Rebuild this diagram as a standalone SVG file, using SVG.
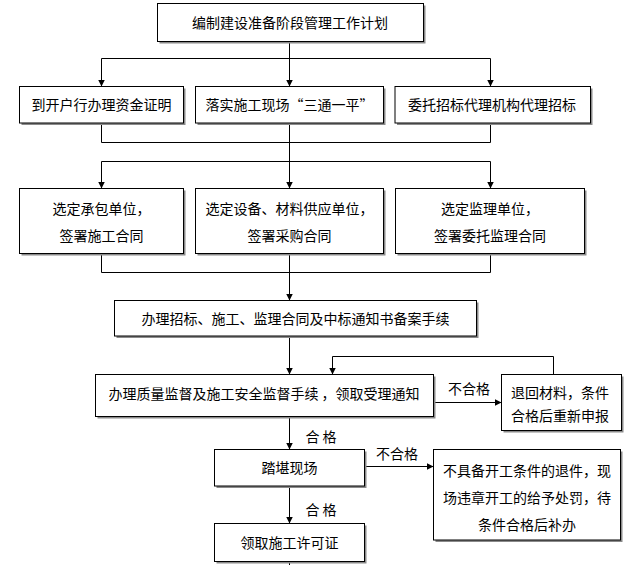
<svg xmlns="http://www.w3.org/2000/svg" width="630" height="565" viewBox="0 0 630 565">
<defs>
<marker id="ah" viewBox="0 0 10 10" refX="10" refY="5" markerWidth="7" markerHeight="7" markerUnits="userSpaceOnUse" orient="auto">
<path d="M0,0 L10,5 L0,10 z" fill="#000"/>
</marker>
</defs>
<style>
.box{fill:#fff;stroke:#000;stroke-width:1}
.sh{fill:#8a8a8a}
text{font-family:"Noto Sans CJK SC","Noto Sans CJK TC",sans-serif;font-size:14px;fill:#000;text-anchor:middle}
.c{fill:none;stroke:#000;stroke-width:1}
.a{marker-end:url(#ah)}
</style>
<rect width="630" height="565" fill="#fff"/>
<g id="connectors">
<path class="c" d="M289.5,41 V58.5 M101.5,58.5 H490.5"/>
<path class="c a" d="M101.5,58.5 V86.5"/>
<path class="c a" d="M289.5,58.5 V86.5"/>
<path class="c a" d="M490.5,58.5 V86.5"/>
<path class="c" d="M101.5,123 V142.5 H490.5 V123"/>
<path class="c a" d="M289.5,123 V188.5"/>
<path class="c" d="M101.5,161.5 H490.5"/>
<path class="c a" d="M101.5,161.5 V188.5"/>
<path class="c a" d="M490.5,161.5 V188.5"/>
<path class="c" d="M101.5,253.5 V272.5 H490.5 V253.5"/>
<path class="c a" d="M289.5,253.5 V300.5"/>
<path class="c a" d="M289.5,336 V374.5"/>
<path class="c a" d="M553.5,374.5 V356.5 H332.5 V374.5"/>
<path class="c a" d="M433.5,402.5 H501.5"/>
<path class="c a" d="M289.5,416.5 V449.5"/>
<path class="c a" d="M364.5,466.5 H433.5"/>
<path class="c a" d="M289.5,486 V523.5"/>
<path class="c" d="M289.5,561.5 V565"/>
<text x="469" y="394">不合格</text>
<text x="321" y="442">合 格</text>
<text x="397" y="459">不合格</text>
<text x="321" y="515">合 格</text>
</g>
<g id="n1"><rect class="sh" x="159.5" y="5.5" width="266" height="38"/><rect class="box" x="157.5" y="3.5" width="266" height="38"/><text x="290" y="27.5">编制建设准备阶段管理工作计划</text></g>
<g id="n2"><rect class="sh" x="21.5" y="88.5" width="164" height="36.5"/><rect class="box" x="19.5" y="86.5" width="164" height="36.5"/><text x="101.5" y="110">到开户行办理资金证明</text></g>
<g id="n3"><rect class="sh" x="197.5" y="88.5" width="188" height="36.5"/><rect class="box" x="195.5" y="86.5" width="188" height="36.5"/><text x="289.5" y="110">落实施工现场“三通一平”</text></g>
<g id="n4"><rect class="sh" x="397" y="88.5" width="195.5" height="36.5"/><rect class="box" x="395" y="86.5" width="195.5" height="36.5"/><text x="492" y="110">委托招标代理机构代理招标</text></g>
<g id="n5"><rect class="sh" x="21.5" y="190.5" width="164" height="65"/><rect class="box" x="19.5" y="188.5" width="164" height="65"/><text x="101.5" y="214">选定承包单位，</text><text x="101.5" y="241">签署施工合同</text></g>
<g id="n6"><rect class="sh" x="197.5" y="190.5" width="188" height="65"/><rect class="box" x="195.5" y="188.5" width="188" height="65"/><text x="289.5" y="214">选定设备、材料供应单位，</text><text x="289.5" y="241">签署采购合同</text></g>
<g id="n7"><rect class="sh" x="397.5" y="190.5" width="189" height="65"/><rect class="box" x="395.5" y="188.5" width="189" height="65"/><text x="490" y="214">选定监理单位，</text><text x="490" y="241">签署委托监理合同</text></g>
<g id="n8"><rect class="sh" x="116.5" y="302.5" width="362" height="35.5"/><rect class="box" x="114.5" y="300.5" width="362" height="35.5"/><text x="295.5" y="323.5">办理招标、施工、监理合同及中标通知书备案手续</text></g>
<g id="n9"><rect class="sh" x="97.5" y="376.5" width="338" height="42"/><rect class="box" x="95.5" y="374.5" width="338" height="42"/><text x="264" y="399">办理质量监督及施工安全监督手续 ，领取受理通知</text></g>
<g id="n10"><rect class="sh" x="503.5" y="376.5" width="120" height="56"/><rect class="box" x="501.5" y="374.5" width="120" height="56"/><text x="560" y="397.5">退回材料，条件</text><text x="560" y="421">合格后重新申报</text></g>
<g id="n11"><rect class="sh" x="216.5" y="451.5" width="150" height="36.5"/><rect class="box" x="214.5" y="449.5" width="150" height="36.5"/><text x="289.5" y="472.5">踏堪现场</text></g>
<g id="n12"><rect class="sh" x="435.5" y="451.5" width="187" height="90.5"/><rect class="box" x="433.5" y="449.5" width="187" height="90.5"/><text x="527" y="475.5">不具备开工条件的退件，现</text><text x="527" y="503">场违章开工的给予处罚，待</text><text x="527" y="530">条件合格后补办</text></g>
<g id="n13"><rect class="sh" x="216.5" y="525.5" width="150" height="38"/><rect class="box" x="214.5" y="523.5" width="150" height="38"/><text x="289.5" y="548">领取施工许可证</text></g>
</svg>
